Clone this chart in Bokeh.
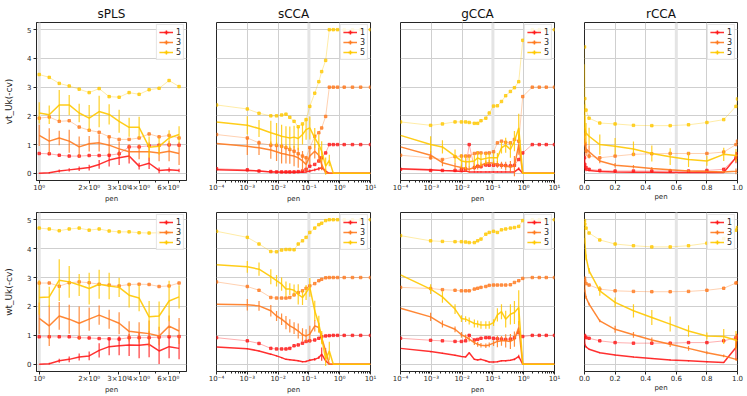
import numpy as np
from bokeh.plotting import figure
from bokeh.models import (ColumnDataSource, FixedTicker, Legend, LegendItem, Span,
                          Range1d, NumeralTickFormatter)
from bokeh.layouts import column, row
from bokeh.embed import file_html
from bokeh.resources import INLINE

FONT = "DejaVu Sans"

# ---------------- data ----------------
METHODS = ["sPLS", "sCCA", "gCCA", "rCCA"]
ROW_LABELS = ["vt_Uk(-cv)", "wt_Uk(-cv)"]
LEVELS = ["1", "3", "5"]
Y_TICKS = [0, 1, 2, 3, 4, 5]
SELECTED_PEN = [1.0, 0.1, 0.1, 0.6]

SPLS_X = [1.0, 1.149, 1.32, 1.516, 1.741, 2.0, 2.297, 2.639, 3.031, 3.482, 4.0, 4.595, 5.278, 6.063, 6.964]
SCCA_X = [1e-4, 1e-3, 2.4e-3, 5.8e-3, 8.9e-3, 0.013, 0.018, 0.024, 0.033, 0.045, 0.062, 0.081,
          0.107, 0.155, 0.21, 0.26, 0.35, 0.46, 0.62, 0.85, 1.4, 2.6, 4.8, 10.0]
GCCA_X = [1e-4, 9.5e-4, 2.3e-3, 5.9e-3, 9.5e-3, 0.013, 0.017, 0.025, 0.032, 0.041, 0.059, 0.076,
          0.105, 0.14, 0.19, 0.26, 0.37, 0.50, 0.69, 0.93, 1.9, 3.2, 5.4, 10.0]
RCCA_X = [0.0, 0.002, 0.01, 0.03, 0.1, 0.2, 0.32, 0.44, 0.56, 0.68, 0.8, 0.91, 0.99, 1.0]

# sPLS, vt
SPLS_VT_1 = [0.0, 0.02, 0.08, 0.12, 0.16, 0.20, 0.31, 0.46, 0.54, 0.60, 0.25, 0.35, 0.10, 0.12, 0.10]
SPLS_VT_1_ERR = [0.02, 0.03, 0.05, 0.06, 0.08, 0.10, 0.15, 0.22, 0.25, 0.26, 0.12, 0.20, 0.10, 0.08, 0.06]
SPLS_VT_3 = [1.32, 1.12, 1.23, 1.12, 0.92, 1.03, 1.06, 0.98, 0.85, 0.75, 0.75, 0.75, 0.71, 0.77, 0.69]
SPLS_VT_3_ERR = [0.37, 0.45, 0.25, 0.40, 0.36, 0.27, 0.30, 0.32, 0.26, 0.26, 0.26, 0.32, 0.29, 0.35, 0.40]
SPLS_VT_5 = [2.10, 2.04, 2.38, 2.38, 2.10, 1.92, 2.15, 2.05, 1.81, 1.60, 1.60, 0.91, 0.94, 1.23, 1.35]
SPLS_VT_5_ERR = [0.37, 0.32, 0.52, 0.35, 0.32, 0.46, 0.55, 0.35, 0.40, 0.33, 0.37, 0.37, 0.30, 0.27, 0.29]
SPLS_VT_1_DOT = [0.69, 0.68, 0.63, 0.60, 0.60, 0.62, 0.62, 0.63, 0.68, 0.92, 0.92, 0.96, 0.98, 0.99, 0.98]
SPLS_VT_3_DOT = [1.92, 1.96, 1.81, 1.83, 1.61, 1.50, 1.43, 1.27, 1.18, 1.18, 1.23, 1.37, 1.27, 1.32, 1.23]
SPLS_VT_5_DOT = [3.44, 3.34, 3.13, 3.04, 2.93, 2.81, 2.95, 2.67, 2.65, 2.81, 2.75, 2.91, 2.96, 3.23, 3.02]

# sPLS, wt
SPLS_WT_1 = [0.0, 0.02, 0.12, 0.17, 0.25, 0.29, 0.48, 0.61, 0.64, 0.67, 0.66, 0.69, 0.46, 0.61, 0.55]
SPLS_WT_1_ERR = [0.01, 0.03, 0.07, 0.10, 0.12, 0.15, 0.25, 0.30, 0.33, 0.38, 0.45, 0.45, 0.45, 0.40, 0.38]
SPLS_WT_3 = [1.59, 1.33, 1.67, 1.56, 1.42, 1.56, 1.70, 1.56, 1.42, 1.14, 1.10, 1.06, 0.98, 1.32, 1.15]
SPLS_WT_3_ERR = [0.55, 0.70, 0.48, 0.50, 0.58, 0.40, 0.33, 0.33, 0.38, 0.35, 0.35, 0.45, 0.32, 0.37, 0.45]
SPLS_WT_5 = [2.31, 2.33, 2.91, 2.85, 2.74, 2.62, 2.77, 2.71, 2.66, 2.39, 2.29, 1.64, 1.67, 2.19, 2.33]
SPLS_WT_5_ERR = [0.60, 0.35, 0.72, 0.55, 0.38, 0.55, 0.50, 0.46, 0.33, 0.43, 0.46, 0.55, 0.50, 0.70, 0.40]
SPLS_WT_1_DOT = [0.95, 0.95, 0.95, 0.95, 0.92, 0.91, 0.89, 0.88, 0.87, 0.92, 0.92, 0.92, 0.94, 0.95, 0.96]
SPLS_WT_3_DOT = [2.81, 2.81, 2.70, 2.82, 2.85, 2.82, 2.77, 2.74, 2.71, 2.76, 2.77, 2.76, 2.69, 2.71, 2.81]
SPLS_WT_5_DOT = [4.71, 4.68, 4.62, 4.68, 4.71, 4.64, 4.68, 4.61, 4.58, 4.58, 4.55, 4.54, 4.55, 4.55, 4.55]

# sCCA, vt
SCCA_VT_1 = [0.12, 0.10, 0.08, 0.05, 0.05, 0.04, 0.04, 0.04, 0.04, 0.04, 0.04, 0.05, 0.08, 0.12, 0.16, 0.20,
             0.08, 0.0, 0.0, 0.0, 0.0, 0.0, 0.0, 0.0]
SCCA_VT_1_ERR = [0.0, 0.02, 0.02, 0.02, 0.02, 0.02, 0.02, 0.02, 0.02, 0.02, 0.03, 0.03, 0.05, 0.05, 0.06, 0.08,
                 0.05, 0.0, 0.0, 0.0, 0.0, 0.0, 0.0, 0.0]
SCCA_VT_3 = [1.04, 0.94, 0.89, 0.81, 0.75, 0.69, 0.66, 0.63, 0.60, 0.54, 0.43, 0.31, 0.60, 0.77, 0.63, 0.31,
             0.0, 0.0, 0.0, 0.0, 0.0, 0.0, 0.0, 0.0]
SCCA_VT_3_ERR = [0.0, 0.30, 0.25, 0.30, 0.32, 0.35, 0.32, 0.30, 0.35, 0.35, 0.35, 0.25, 0.30, 0.25, 0.25, 0.20,
                 0.0, 0.0, 0.0, 0.0, 0.0, 0.0, 0.0, 0.0]
SCCA_VT_5 = [1.79, 1.67, 1.56, 1.41, 1.35, 1.29, 1.26, 1.23, 1.26, 1.21, 1.35, 1.52, 1.58, 1.23, 1.00, 0.77,
             0.25, 0.45, 0.0, 0.0, 0.0, 0.0, 0.0, 0.0]
SCCA_VT_5_ERR = [0.0, 0.32, 0.30, 0.42, 0.40, 0.40, 0.38, 0.40, 0.40, 0.40, 0.35, 0.35, 0.40, 0.35, 0.35, 0.35,
                 0.30, 0.20, 0.0, 0.0, 0.0, 0.0, 0.0, 0.0]
SCCA_VT_1_DOT = [0.16, 0.12, 0.08, 0.06, 0.05, 0.05, 0.05, 0.05, 0.05, 0.06, 0.08, 0.14, 0.25, 0.31, 0.43, 0.54,
                 0.71, 1.0, 1.0, 1.0, 1.0, 1.0, 1.0, 1.0]
SCCA_VT_3_DOT = [1.35, 1.23, 1.06, 0.98, 0.97, 0.94, 0.89, 0.83, 0.77, 0.68, 0.60, 0.54, 0.89, 1.29, 1.41, 1.58,
                 1.98, 3.0, 3.0, 3.0, 3.0, 3.0, 3.0, 3.0]
SCCA_VT_5_DOT = [2.38, 2.24, 2.09, 2.00, 2.00, 2.03, 2.06, 1.95, 1.81, 1.62, 1.72, 1.87, 2.33, 2.79, 3.19, 3.54,
                 3.93, 5.0, 5.0, 5.0, 5.0, 5.0, 5.0, 5.0]

# sCCA, wt
SCCA_WT_1 = [0.60, 0.54, 0.46, 0.35, 0.29, 0.23, 0.17, 0.16, 0.14, 0.12, 0.09, 0.10, 0.14, 0.17, 0.23, 0.35,
             0.12, 0.0, 0.0, 0.0, 0.0, 0.0, 0.0, 0.0]
SCCA_WT_1_ERR = [0.0, 0.02, 0.02, 0.02, 0.02, 0.02, 0.02, 0.02, 0.02, 0.02, 0.02, 0.03, 0.03, 0.05, 0.05, 0.23,
                 0.05, 0.0, 0.0, 0.0, 0.0, 0.0, 0.0, 0.0]
SCCA_WT_3 = [2.08, 2.06, 2.02, 1.85, 1.67, 1.56, 1.44, 1.33, 1.25, 1.15, 1.02, 0.98, 1.04, 1.33, 1.27, 0.92,
             0.46, 0.0, 0.0, 0.0, 0.0, 0.0, 0.0, 0.0]
SCCA_WT_3_ERR = [0.0, 0.20, 0.17, 0.20, 0.17, 0.20, 0.23, 0.23, 0.20, 0.26, 0.23, 0.23, 0.29, 0.20, 0.17, 0.17,
                 0.10, 0.0, 0.0, 0.0, 0.0, 0.0, 0.0, 0.0]
SCCA_WT_5 = [3.44, 3.37, 3.29, 3.03, 2.89, 2.77, 2.60, 2.60, 2.56, 2.42, 2.31, 2.48, 2.66, 1.85, 1.39, 0.92,
             0.17, 0.46, 0.0, 0.0, 0.0, 0.0, 0.0, 0.0]
SCCA_WT_5_ERR = [0.0, 0.20, 0.23, 0.26, 0.20, 0.23, 0.26, 0.20, 0.20, 0.35, 0.26, 0.26, 0.32, 0.35, 0.29, 0.23,
                 0.23, 0.32, 0.0, 0.0, 0.0, 0.0, 0.0, 0.0]
SCCA_WT_1_DOT = [0.92, 0.81, 0.72, 0.55, 0.53, 0.53, 0.53, 0.55, 0.64, 0.67, 0.73, 0.79, 0.81, 0.84, 0.90, 0.95,
                 0.98, 0.99, 1.0, 1.0, 1.0, 1.0, 1.0, 1.0]
SCCA_WT_3_DOT = [2.85, 2.69, 2.56, 2.31, 2.29, 2.29, 2.29, 2.31, 2.40, 2.48, 2.54, 2.63, 2.71, 2.79, 2.89, 2.94,
                 2.99, 3.0, 3.0, 3.0, 3.0, 3.0, 3.0, 3.0]
SCCA_WT_5_DOT = [4.60, 4.39, 4.16, 3.90, 3.89, 3.95, 3.97, 3.97, 3.96, 4.16, 4.27, 4.39, 4.56, 4.71, 4.83, 4.88,
                 4.97, 5.0, 5.0, 5.0, 5.0, 5.0, 5.0, 5.0]

# gCCA, vt
GCCA_VT_1 = [0.16, 0.12, 0.10, 0.08, 0.06, 0.08, 0.05, 0.05, 0.05, 0.05, 0.05, 0.05, 0.05, 0.05, 0.05, 0.05,
             0.05, 0.05, 0.16, 0.0, 0.0, 0.0, 0.0, 0.0]
GCCA_VT_1_ERR = [0.0, 0.02, 0.02, 0.02, 0.02, 0.02, 0.02, 0.02, 0.02, 0.02, 0.02, 0.02, 0.02, 0.02, 0.02, 0.02,
                 0.02, 0.03, 0.05, 0.0, 0.0, 0.0, 0.0, 0.0]
GCCA_VT_3 = [0.92, 0.63, 0.37, 0.25, 0.20, 0.16, 0.14, 0.20, 0.23, 0.28, 0.35, 0.37, 0.35, 0.31, 0.28, 0.25,
             0.23, 0.25, 1.00, 0.0, 0.0, 0.0, 0.0, 0.0]
GCCA_VT_3_ERR = [0.0, 0.15, 0.12, 0.12, 0.10, 0.10, 0.10, 0.10, 0.10, 0.10, 0.10, 0.10, 0.10, 0.12, 0.12, 0.15,
                 0.20, 0.35, 0.35, 0.0, 0.0, 0.0, 0.0, 0.0]
GCCA_VT_5 = [1.32, 1.00, 0.92, 0.60, 0.43, 0.40, 0.40, 0.43, 0.54, 0.48, 0.52, 0.54, 0.54, 0.54, 0.89, 0.98,
             0.83, 1.12, 1.58, 0.0, 0.0, 0.0, 0.0, 0.0]
GCCA_VT_5_ERR = [0.0, 0.29, 0.23, 0.23, 0.23, 0.25, 0.18, 0.20, 0.23, 0.23, 0.20, 0.17, 0.17, 0.17, 0.20, 0.26,
                 0.29, 0.35, 0.49, 0.0, 0.0, 0.0, 0.0, 0.0]
GCCA_VT_1_DOT = [0.14, 0.10, 0.10, 0.10, 0.13, 0.15, 1.00, 0.20, 0.25, 0.23, 0.29, 0.28, 0.28, 0.29, 0.28, 0.27,
                 0.26, 0.28, 0.48, 0.71, 1.0, 1.0, 1.0, 1.0]
GCCA_VT_3_DOT = [0.63, 0.54, 0.48, 0.58, 0.60, 0.60, 0.60, 0.69, 0.71, 0.71, 0.70, 0.71, 0.75, 1.06, 1.12, 1.08,
                 1.06, 1.18, 1.12, 2.67, 3.0, 3.0, 3.0, 3.0]
GCCA_VT_5_DOT = [1.79, 1.67, 1.72, 1.79, 1.79, 1.79, 1.77, 1.74, 1.74, 1.83, 1.92, 2.10, 2.34, 2.35, 2.50, 2.70,
                 2.85, 2.98, 3.19, 4.63, 5.0, 5.0, 5.0, 5.0]

# gCCA, wt
GCCA_WT_1 = [0.55, 0.44, 0.38, 0.31, 0.27, 0.25, 0.40, 0.17, 0.15, 0.17, 0.12, 0.08, 0.08, 0.09, 0.12, 0.12,
             0.14, 0.17, 0.27, 0.0, 0.0, 0.0, 0.0, 0.0]
GCCA_WT_1_ERR = [0.0, 0.02, 0.02, 0.02, 0.02, 0.02, 0.02, 0.02, 0.02, 0.02, 0.02, 0.02, 0.02, 0.02, 0.02, 0.02,
                 0.02, 0.03, 0.06, 0.0, 0.0, 0.0, 0.0, 0.0]
GCCA_WT_3 = [1.94, 1.64, 1.39, 1.21, 1.02, 0.95, 0.87, 0.75, 0.69, 0.66, 0.64, 0.67, 0.73, 0.79, 0.81, 0.81,
             0.79, 0.87, 1.27, 0.0, 0.0, 0.0, 0.0, 0.0]
GCCA_WT_3_ERR = [0.0, 0.14, 0.12, 0.10, 0.10, 0.08, 0.08, 0.08, 0.08, 0.08, 0.08, 0.08, 0.10, 0.20, 0.17, 0.23,
                 0.26, 0.26, 0.23, 0.0, 0.0, 0.0, 0.0, 0.0]
GCCA_WT_5 = [3.09, 2.60, 2.33, 1.91, 1.58, 1.56, 1.50, 1.41, 1.39, 1.36, 1.36, 1.36, 1.44, 1.71, 1.82, 1.56,
             1.73, 1.79, 1.96, 0.0, 0.0, 0.0, 0.0, 0.0]
GCCA_WT_5_ERR = [0.0, 0.17, 0.20, 0.17, 0.12, 0.10, 0.12, 0.14, 0.12, 0.13, 0.13, 0.13, 0.12, 0.23, 0.26, 0.29,
                 0.35, 0.40, 0.60, 0.0, 0.0, 0.0, 0.0, 0.0]
GCCA_WT_1_DOT = [0.90, 0.83, 0.81, 0.79, 0.79, 0.81, 1.00, 0.84, 0.86, 0.90, 0.92, 0.92, 0.90, 0.88, 0.87, 0.86,
                 0.87, 0.92, 1.10, 0.96, 1.0, 1.0, 1.0, 1.0]
GCCA_WT_3_DOT = [2.66, 2.62, 2.58, 2.56, 2.54, 2.54, 2.54, 2.60, 2.63, 2.66, 2.69, 2.73, 2.74, 2.74, 2.74, 2.74,
                 2.75, 2.83, 2.89, 2.97, 3.0, 3.0, 3.0, 3.0]
GCCA_WT_5_DOT = [4.45, 4.27, 4.25, 4.24, 4.24, 4.23, 4.21, 4.21, 4.27, 4.33, 4.50, 4.56, 4.60, 4.56, 4.65, 4.68,
                 4.71, 4.73, 4.77, 4.97, 5.0, 5.0, 5.0, 5.0]

# rCCA, vt
RCCA_VT_1 = [0.50, 0.20, 0.12, 0.10, 0.06, 0.05, 0.04, 0.04, 0.03, 0.03, 0.03, 0.03, 0.55, 0.65]
RCCA_VT_1_ERR = [0.20, 0.10, 0.05, 0.03, 0.02, 0.02, 0.02, 0.02, 0.02, 0.02, 0.02, 0.02, 0.20, 0.0]
RCCA_VT_3 = [1.30, 1.00, 0.85, 0.75, 0.43, 0.28, 0.23, 0.17, 0.12, 0.08, 0.06, 0.05, 0.07, 0.08]
RCCA_VT_3_ERR = [0.30, 0.25, 0.25, 0.23, 0.08, 0.08, 0.06, 0.05, 0.04, 0.04, 0.03, 0.03, 0.10, 0.0]
RCCA_VT_5 = [2.40, 1.60, 1.40, 1.29, 1.00, 0.94, 0.85, 0.69, 0.58, 0.48, 0.43, 0.66, 0.62, 0.62]
RCCA_VT_5_ERR = [1.40, 0.40, 0.35, 0.30, 0.35, 0.29, 0.26, 0.28, 0.29, 0.26, 0.17, 0.23, 0.23, 0.0]
RCCA_VT_1_DOT = [0.54, 0.31, 0.20, 0.14, 0.10, 0.08, 0.08, 0.08, 0.08, 0.08, 0.10, 0.14, 0.54, 0.68]
RCCA_VT_3_DOT = [1.35, 1.00, 0.77, 0.60, 0.54, 0.60, 0.66, 0.68, 0.69, 0.69, 0.69, 0.74, 1.00, 1.12]
RCCA_VT_5_DOT = [4.40, 2.60, 2.20, 1.92, 1.75, 1.72, 1.67, 1.66, 1.66, 1.69, 1.77, 1.87, 2.33, 2.59]

# rCCA, wt
RCCA_WT_1 = [0.92, 0.69, 0.60, 0.52, 0.40, 0.32, 0.25, 0.20, 0.15, 0.12, 0.09, 0.06, 0.58, 0.98]
RCCA_WT_1_ERR = [0.0, 0.02, 0.02, 0.02, 0.02, 0.02, 0.02, 0.02, 0.02, 0.02, 0.02, 0.02, 0.40, 0.0]
RCCA_WT_3 = [2.98, 2.54, 2.31, 2.08, 1.50, 1.21, 1.02, 0.84, 0.69, 0.55, 0.40, 0.29, 0.17, 0.14]
RCCA_WT_3_ERR = [0.0, 0.05, 0.05, 0.05, 0.05, 0.12, 0.10, 0.09, 0.09, 0.08, 0.05, 0.05, 0.05, 0.0]
RCCA_WT_5 = [4.97, 4.27, 3.70, 3.23, 2.54, 2.14, 1.85, 1.62, 1.39, 1.15, 0.98, 0.96, 0.83, 0.81]
RCCA_WT_5_ERR = [0.0, 0.10, 0.10, 0.10, 0.17, 0.17, 0.23, 0.26, 0.26, 0.20, 0.12, 0.26, 0.32, 0.0]
RCCA_WT_1_DOT = [1.00, 0.96, 0.92, 0.90, 0.81, 0.75, 0.73, 0.73, 0.73, 0.75, 0.75, 0.81, 0.92, 1.00]
RCCA_WT_3_DOT = [2.98, 2.89, 2.79, 2.74, 2.60, 2.54, 2.52, 2.51, 2.51, 2.52, 2.56, 2.63, 2.81, 2.83]
RCCA_WT_5_DOT = [4.97, 4.85, 4.71, 4.54, 4.30, 4.16, 4.10, 4.06, 4.06, 4.10, 4.19, 4.35, 4.64, 4.73]

PANELS = [
    [  # row 0 : vt
        (SPLS_X, [SPLS_VT_1, SPLS_VT_3, SPLS_VT_5], [SPLS_VT_1_ERR, SPLS_VT_3_ERR, SPLS_VT_5_ERR],
         [SPLS_VT_1_DOT, SPLS_VT_3_DOT, SPLS_VT_5_DOT]),
        (SCCA_X, [SCCA_VT_1, SCCA_VT_3, SCCA_VT_5], [SCCA_VT_1_ERR, SCCA_VT_3_ERR, SCCA_VT_5_ERR],
         [SCCA_VT_1_DOT, SCCA_VT_3_DOT, SCCA_VT_5_DOT]),
        (GCCA_X, [GCCA_VT_1, GCCA_VT_3, GCCA_VT_5], [GCCA_VT_1_ERR, GCCA_VT_3_ERR, GCCA_VT_5_ERR],
         [GCCA_VT_1_DOT, GCCA_VT_3_DOT, GCCA_VT_5_DOT]),
        (RCCA_X, [RCCA_VT_1, RCCA_VT_3, RCCA_VT_5], [RCCA_VT_1_ERR, RCCA_VT_3_ERR, RCCA_VT_5_ERR],
         [RCCA_VT_1_DOT, RCCA_VT_3_DOT, RCCA_VT_5_DOT]),
    ],
    [  # row 1 : wt
        (SPLS_X, [SPLS_WT_1, SPLS_WT_3, SPLS_WT_5], [SPLS_WT_1_ERR, SPLS_WT_3_ERR, SPLS_WT_5_ERR],
         [SPLS_WT_1_DOT, SPLS_WT_3_DOT, SPLS_WT_5_DOT]),
        (SCCA_X, [SCCA_WT_1, SCCA_WT_3, SCCA_WT_5], [SCCA_WT_1_ERR, SCCA_WT_3_ERR, SCCA_WT_5_ERR],
         [SCCA_WT_1_DOT, SCCA_WT_3_DOT, SCCA_WT_5_DOT]),
        (GCCA_X, [GCCA_WT_1, GCCA_WT_3, GCCA_WT_5], [GCCA_WT_1_ERR, GCCA_WT_3_ERR, GCCA_WT_5_ERR],
         [GCCA_WT_1_DOT, GCCA_WT_3_DOT, GCCA_WT_5_DOT]),
        (RCCA_X, [RCCA_WT_1, RCCA_WT_3, RCCA_WT_5], [RCCA_WT_1_ERR, RCCA_WT_3_ERR, RCCA_WT_5_ERR],
         [RCCA_WT_1_DOT, RCCA_WT_3_DOT, RCCA_WT_5_DOT]),
    ],
]

# ---------------- style / layout ----------------
COLORS = ["#ff1a1a", "#ff7a1f", "#ffc800"]
FIG_W = [201, 184, 184, 177]
BORDER_L = [36, 15, 15, 15]
BORDER_R = [15, 15, 15, 9]
FIG_H = [205, 191]
BORDER_T = [22, 7]
X_RANGES = [(0.963, 7.72), (1e-4, 10.0), (1e-4, 10.0), (0.0, 1.0)]
Y_RANGE = (-0.25, 5.25)

LOG_TICKS = [1e-4, 1e-3, 1e-2, 1e-1, 1.0, 10.0]
LOG_LABELS = {1e-4: "10⁻⁴", 1e-3: "10⁻³", 1e-2: "10⁻²", 1e-1: "10⁻¹", 1.0: "10⁰", 10.0: "10¹"}
LOG_MINOR = [m * d for d in [1e-4, 1e-3, 1e-2, 1e-1, 1.0] for m in range(2, 10)]
SPLS_TICKS = [1, 2, 3, 4, 6]
SPLS_MINOR = [5, 7]
SPLS_LABELS = {1: "10⁰", 2: "2×10⁰", 3: "3×10⁰", 4: "4×10⁰", 6: "6×10⁰"}
RCCA_TICKS = [0.0, 0.2, 0.4, 0.6, 0.8, 1.0]


def make_panel(ri, mi):
    xs, solids, errs, dots = PANELS[ri][mi]
    method = METHODS[mi]
    logx = method != "rCCA"
    p = figure(width=FIG_W[mi], height=FIG_H[ri],
               title=method if ri == 0 else None,
               x_axis_type="log" if logx else "linear",
               x_range=Range1d(*X_RANGES[mi]), y_range=Range1d(*Y_RANGE),
               output_backend="svg", toolbar_location=None,
               min_border_left=BORDER_L[mi], min_border_right=BORDER_R[mi],
               min_border_top=BORDER_T[ri], min_border_bottom=20)
    p.background_fill_color = "white"
    p.border_fill_color = "white"
    p.outline_line_color = "#262626"
    p.outline_line_width = 1

    if ri == 0:
        p.title.align = "center"
        p.title.text_font = FONT
        p.title.text_font_size = "12px"
        p.title.text_font_style = "normal"
        p.title.text_color = "#111111"
        p.title.standoff = 4

    # ticks
    p.yaxis.ticker = FixedTicker(ticks=Y_TICKS)
    if method == "sPLS":
        p.xaxis.ticker = FixedTicker(ticks=SPLS_TICKS, minor_ticks=SPLS_MINOR)
        p.xaxis.major_label_overrides = SPLS_LABELS
        p.xgrid.ticker = FixedTicker(ticks=[1])
    elif logx:
        p.xaxis.ticker = FixedTicker(ticks=LOG_TICKS, minor_ticks=LOG_MINOR)
        p.xaxis.major_label_overrides = LOG_LABELS
    else:
        p.xaxis.ticker = FixedTicker(ticks=RCCA_TICKS)
        p.xaxis.formatter = NumeralTickFormatter(format="0.0")

    for ax in (p.xaxis[0], p.yaxis[0]):
        ax.axis_line_color = "#262626"
        ax.major_tick_line_color = "#262626"
        ax.minor_tick_line_color = "#262626"
        ax.major_tick_in = 0
        ax.major_tick_out = 3
        ax.minor_tick_in = 0
        ax.minor_tick_out = 2
        ax.major_label_text_font = FONT
        ax.major_label_text_font_size = "7px"
        ax.major_label_text_color = "#262626"
        ax.major_label_standoff = 0
        ax.axis_label_text_font = FONT
        ax.axis_label_text_font_style = "normal"
        ax.axis_label_text_color = "#262626"

    p.xaxis.axis_label = "pen"
    p.xaxis.axis_label_text_font_size = "7px"
    p.xaxis.axis_label_standoff = 0
    if mi == 0:
        p.yaxis.axis_label = ROW_LABELS[ri]
        p.yaxis.axis_label_text_font_size = "9px"
        p.yaxis.axis_label_standoff = 10
        p.yaxis.major_label_standoff = 2
    else:
        p.yaxis.visible = False

    p.grid.grid_line_color = "#cfcfcf"
    p.grid.grid_line_width = 1

    p.add_layout(Span(location=SELECTED_PEN[mi], dimension="height",
                      line_color="#e4e4e4", line_width=3, level="underlay"))

    items = []
    for k in range(3):
        c = COLORS[k]
        dsrc = ColumnDataSource(dict(x=xs, y=dots[k]))
        p.line("x", "y", source=dsrc, line_color=c, line_width=1, line_alpha=0.35)
        p.scatter("x", "y", source=dsrc, marker="square", size=2.5,
                  fill_color=c, line_color=c, alpha=0.75)

        ssrc = ColumnDataSource(dict(x=xs, y=solids[k]))
        r = p.line("x", "y", source=ssrc, line_color=c, line_width=1.5, line_alpha=0.9)
        bx = [x for x, e in zip(xs, errs[k]) if e > 0]
        lo = [y - e for y, e in zip(solids[k], errs[k]) if e > 0]
        hi = [y + e for y, e in zip(solids[k], errs[k]) if e > 0]
        p.segment(x0="x", y0="lo", x1="x", y1="hi",
                  source=ColumnDataSource(dict(x=bx, lo=lo, hi=hi)),
                  line_color=c, line_width=1.2, line_alpha=0.85)
        cross = p.scatter(x=np.array([np.nan]), y=np.array([np.nan]), marker="cross",
                          line_color=c, line_width=1.5)
        items.append(LegendItem(label=LEVELS[k], renderers=[r, cross]))

    legend = Legend(items=items, location="top_right")
    legend.label_text_font = FONT
    legend.label_text_font_size = "8px"
    legend.label_text_color = "#262626"
    legend.glyph_width = 14
    legend.glyph_height = 10
    legend.label_height = 10
    legend.label_width = 5
    legend.label_standoff = 3
    legend.spacing = -1
    legend.padding = 2
    legend.margin = 2
    legend.border_line_color = "#cccccc"
    legend.border_line_width = 1
    legend.background_fill_alpha = 0.85
    p.add_layout(legend)
    return p


rows = [row(*[make_panel(ri, mi) for mi in range(4)]) for ri in range(2)]
layout = column(*rows)

open("out.html", "w").write(file_html(layout, INLINE))
